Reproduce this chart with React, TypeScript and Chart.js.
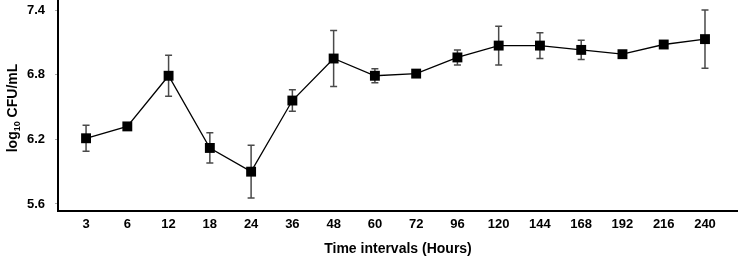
import React, { useEffect, useRef } from "react";
import { Chart, registerables } from "chart.js";

Chart.register(...registerables);

const timeLabels = ["3", "6", "12", "18", "24", "36", "48", "60", "72", "96", "120", "144", "168", "192", "216", "240"];
const meanValues = [6.21, 6.32, 6.79, 6.12, 5.9, 6.56, 6.95, 6.79, 6.81, 6.96, 7.07, 7.07, 7.03, 6.99, 7.08, 7.13];
const errorValues = [0.12, 0.01, 0.19, 0.14, 0.245, 0.1, 0.26, 0.065, 0.02, 0.07, 0.18, 0.12, 0.09, 0.01, 0.02, 0.27];
const yTickValues = [5.6, 6.2, 6.8, 7.4];

const FONT = "'Liberation Sans', Arial, Helvetica, sans-serif";

const errorBarPlugin = {
  id: "errorBars",
  beforeDatasetsDraw(chart: any) {
    const { ctx, scales } = chart;
    const x = scales.x;
    const y = scales.y;
    ctx.save();
    ctx.strokeStyle = "#4a4a4a";
    ctx.lineWidth = 1.5;
    meanValues.forEach((m, i) => {
      const e = errorValues[i];
      const px = x.getPixelForValue(i);
      const top = y.getPixelForValue(m + e);
      const bot = y.getPixelForValue(m - e);
      ctx.beginPath();
      ctx.moveTo(px, top);
      ctx.lineTo(px, bot);
      ctx.moveTo(px - 3.5, top);
      ctx.lineTo(px + 3.5, top);
      ctx.moveTo(px - 3.5, bot);
      ctx.lineTo(px + 3.5, bot);
      ctx.stroke();
    });
    ctx.restore();
  },
};

const yTitlePlugin = {
  id: "yTitle",
  afterDraw(chart: any) {
    const ctx = chart.ctx;
    const big = `bold 14px ${FONT}`;
    const small = `bold 9px ${FONT}`;
    ctx.save();
    ctx.font = big;
    const w1 = ctx.measureText("log").width;
    const w3 = ctx.measureText(" CFU/mL").width;
    ctx.font = small;
    const w2 = ctx.measureText("10").width;
    const total = w1 + w2 + w3;
    ctx.translate(12, 108);
    ctx.rotate(-Math.PI / 2);
    ctx.fillStyle = "#000";
    ctx.textBaseline = "alphabetic";
    ctx.textAlign = "left";
    let cx = -total / 2;
    ctx.font = big;
    ctx.fillText("log", cx, 5);
    cx += w1;
    ctx.font = small;
    ctx.fillText("10", cx, 8);
    cx += w2;
    ctx.font = big;
    ctx.fillText(" CFU/mL", cx, 5);
    ctx.restore();
  },
};

export default function App() {
  const canvasRef = useRef<HTMLCanvasElement | null>(null);

  useEffect(() => {
    if (!canvasRef.current) return;
    const chart = new Chart(canvasRef.current, {
      type: "line",
      data: {
        datasets: [
          {
            data: meanValues.map((v, i) => ({ x: i, y: v })),
            borderColor: "#000",
            borderWidth: 1.3,
            pointStyle: "rect",
            pointRadius: 7,
            pointBackgroundColor: "#000",
            pointBorderColor: "#000",
            pointBorderWidth: 0,
            tension: 0,
            fill: false,
            clip: false,
          },
        ],
      },
      options: {
        animation: false,
        responsive: false,
        layout: { padding: 0, autoPadding: false },
        plugins: { legend: { display: false }, tooltip: { enabled: false } },
        scales: {
          x: {
            type: "linear",
            min: -0.68,
            max: 15.8,
            afterBuildTicks: (s: any) => {
              s.ticks = timeLabels.map((_, i) => ({ value: i }));
            },
            afterFit: (s: any) => {
              s.height = 45;
              s.paddingLeft = 0;
              s.paddingRight = 0;
            },
            grid: { display: false, drawTicks: false },
            border: { display: true, color: "#000", width: 2 },
            ticks: {
              autoSkip: false,
              maxRotation: 0,
              padding: 6,
              color: "#000",
              font: { family: FONT, size: 13, weight: "bold" },
              callback: (v: any) => timeLabels[v as number],
            },
            title: {
              display: true,
              text: "Time intervals (Hours)",
              color: "#000",
              font: { family: FONT, size: 14, weight: "bold", lineHeight: 1 },
              padding: { top: 0, bottom: 0 },
            },
          },
          y: {
            type: "linear",
            min: 5.535,
            max: 7.493,
            afterBuildTicks: (s: any) => {
              s.ticks = yTickValues.map((v) => ({ value: v }));
            },
            afterFit: (s: any) => {
              s.width = 58;
              s.paddingTop = 0;
              s.paddingBottom = 0;
            },
            grid: { drawOnChartArea: false, drawTicks: true, tickLength: 3, color: "#aaa" },
            border: { display: true, color: "#000", width: 2 },
            ticks: {
              padding: 10,
              color: "#000",
              font: { family: FONT, size: 13, weight: "bold" },
              callback: (v: any) => Number(v).toFixed(1),
            },
          },
        },
      },
      plugins: [errorBarPlugin, yTitlePlugin],
    } as any);
    return () => chart.destroy();
  }, []);

  return (
    <div style={{ position: "absolute", left: 0, top: 0, width: 738, height: 256, background: "#fff" }}>
      <canvas ref={canvasRef} width={738} height={256} />
    </div>
  );
}
